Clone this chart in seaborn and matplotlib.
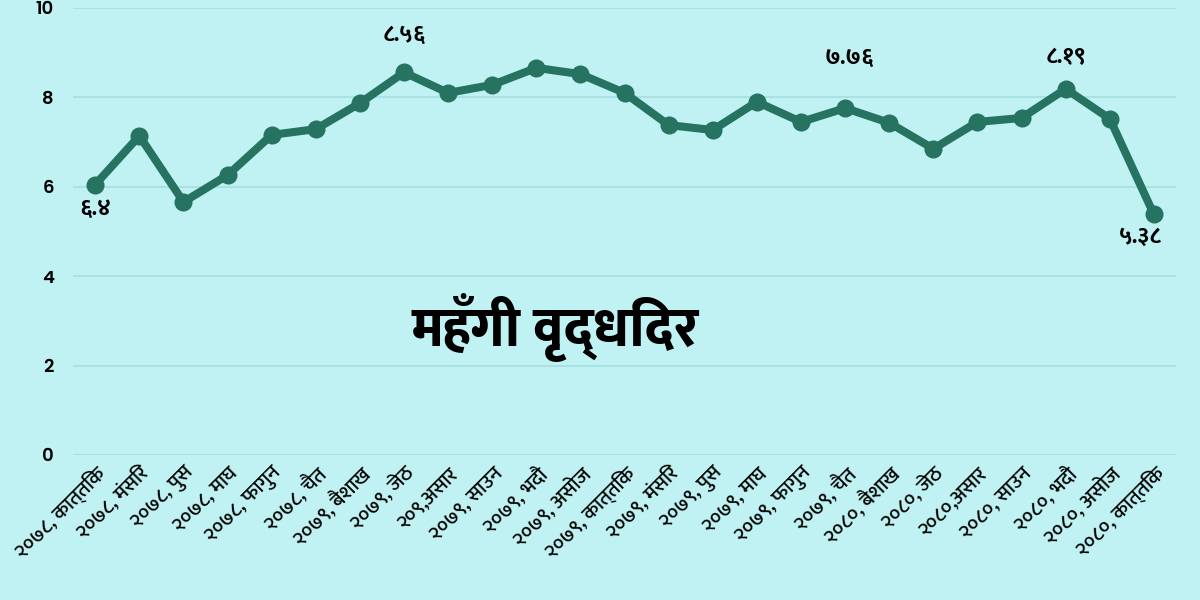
import matplotlib
matplotlib.use("Agg")
from matplotlib import pyplot as plt
from matplotlib import font_manager as fm
import pandas as pd
import seaborn as sns

# month labels (nepali calendar) and inflation values
months = ["२०७८, कात्तिक", "२०७८, मंसिर", "२०७८, पुस", "२०७८, माघ", "२०७८, फागुन",
          "२०७८, चैत", "२०७९, बैशाख", "२०७९, जेठ", "२०९,असार", "२०७९, साउन",
          "२०७९, भदौ", "२०७९, असोज", "२०७९, कात्तिक", "२०७९, मंसिर", "२०७९, पुस",
          "२०७९, माघ", "२०७९, फागुन", "२०७९, चैत", "२०८०, बैशाख", "२०८०, जेठ",
          "२०८०,असार", "२०८०, साउन", "२०८०, भदौ", "२०८०, असोज", "२०८०, कात्तिक"]
rate = [6.05, 7.14, 5.66, 6.26, 7.16, 7.29, 7.87, 8.56, 8.10, 8.28,
        8.66, 8.52, 8.10, 7.38, 7.27, 7.90, 7.45, 7.76, 7.43, 6.85,
        7.45, 7.54, 8.19, 7.52, 5.38]
# labelled points: index -> text
point_labels = {0: "६.४", 7: "८.५६", 17: "७.७६", 22: "८.१९", 24: "५.३८"}
title_text = "महँगी वृद्धिदर"

# pick installed fonts: one with devanagari digits, one for the y ticks
installed = {f.name for f in fm.fontManager.ttflist}
deva = next((n for n in ["Ek Mukta", "Hind", "Baloo 2"] if n in installed), "DejaVu Sans")
num_font = "Poppins" if "Poppins" in installed else "Lato"

bg = "#c0f2f3"
line_col = "#267362"

sns.set_theme(style="whitegrid", rc={"axes.facecolor": bg, "figure.facecolor": bg,
                                     "grid.color": "#a6dfe0", "grid.linewidth": 1.2,
                                     "text.color": "black", "xtick.color": "black",
                                     "ytick.color": "black"})
plt.rcParams["font.family"] = [deva, "DejaVu Sans"]

df = pd.DataFrame({"pos": range(len(months)), "rate": rate})

fig = plt.figure(figsize=(12, 6), dpi=100)
ax = fig.add_axes([0.061, 0.2417, 0.919, 0.745])
sns.lineplot(data=df, x="pos", y="rate", ax=ax, color=line_col, linewidth=5.8,
             marker="o", markersize=13, markeredgewidth=0)

ax.set_ylim(0, 10)
ax.set_xlim(-0.5, len(months) - 0.5)
ax.set_yticks([0, 2, 4, 6, 8, 10])
ax.set_yticklabels(["0", "2", "4", "6", "8", "10"], fontsize=13, fontweight="semibold",
                   family=[num_font, "DejaVu Sans"])
ax.set_xticks(range(len(months)))
ax.set_xticklabels(months, rotation=45, ha="right", rotation_mode="anchor", fontsize=15,
                   fontweight="medium")
ax.tick_params(axis="x", length=0, pad=6)
ax.tick_params(axis="y", length=0, pad=14)
ax.xaxis.grid(False)
ax.set_xlabel("")
ax.set_ylabel("")
for s in ax.spines.values():
    s.set_visible(False)

offsets = {0: (0, -24), 7: (0, 37), 17: (4, 50), 22: (0, 32), 24: (-14, -22)}
for i, txt in point_labels.items():
    ax.annotate(txt, (i, rate[i]), xytext=offsets[i], textcoords="offset pixels",
                ha="center", va="center", fontsize=17, fontweight="bold")

ax.text(0.437, 0.285, title_text, transform=ax.transAxes, ha="center", va="center",
        fontsize=40, fontweight="heavy")

fig.savefig("out.png", dpi=100, facecolor=bg)
